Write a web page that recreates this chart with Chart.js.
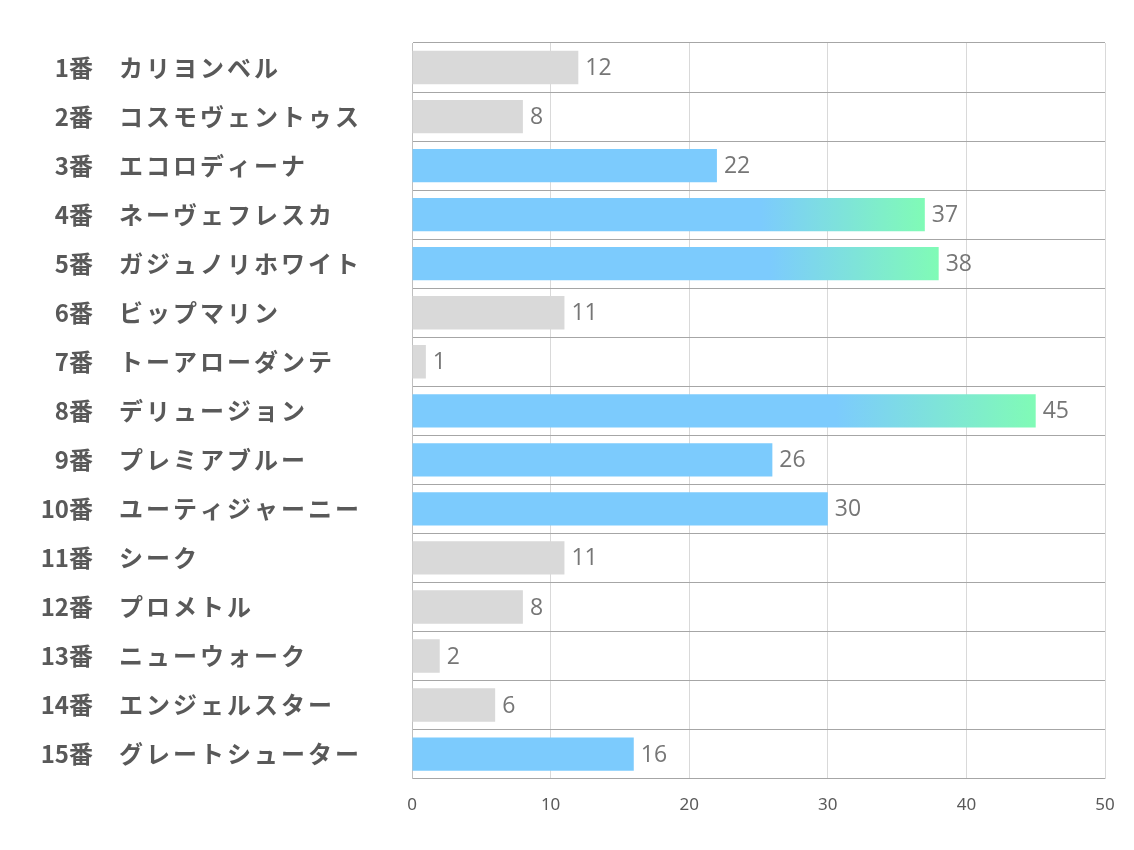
<!DOCTYPE html>
<html>
<head>
<meta charset="utf-8">
<script src="https://cdn.jsdelivr.net/npm/chart.js@4.4.0/dist/chart.umd.min.js"></script>
<style>
  html, body { margin: 0; padding: 0; background: #fff; }
</style>
</head>
<body>
<canvas id="chart" width="1134" height="850"></canvas>
<script>
var horseNos = ["1番", "2番", "3番", "4番", "5番", "6番", "7番", "8番", "9番", "10番", "11番", "12番", "13番", "14番", "15番"];
var horseNames = ["カリヨンベル", "コスモヴェントゥス", "エコロディーナ", "ネーヴェフレスカ", "ガジュノリホワイト", "ビップマリン",
    "トーアローダンテ", "デリュージョン", "プレミアブルー", "ユーティジャーニー", "シーク", "プロメトル", "ニューウォーク",
    "エンジェルスター", "グレートシューター"];
var scores = [12, 8, 22, 37, 38, 11, 1, 45, 26, 30, 11, 8, 2, 6, 16];
// 0 = gray, 1 = blue, 2 = blue->green
var barKind = [0, 0, 1, 2, 2, 0, 0, 2, 1, 1, 0, 0, 0, 0, 1];
var xTicks = [0, 10, 20, 30, 40, 50];

var GRAY = "#d9d9d9", BLUE = "#7ccbfd", GREEN = "#80fbb6";

function barColor(ctx) {
    var kind = barKind[ctx.dataIndex];
    if (kind === 0) return GRAY;
    if (kind === 1) return BLUE;
    var chart = ctx.chart;
    if (!chart.chartArea) return BLUE;
    var xs = chart.scales.x;
    var x0 = xs.getPixelForValue(0);
    var x1 = xs.getPixelForValue(scores[ctx.dataIndex]);
    var g = chart.ctx.createLinearGradient(x0, 0, x1, 0);
    g.addColorStop(0, BLUE);
    g.addColorStop(0.68, BLUE);
    g.addColorStop(1, GREEN);
    return g;
}

// left side labels: number right aligned, name left aligned
var sideLabels = {
    id: 'sideLabels',
    afterDraw: function (chart) {
        var c = chart.ctx, ys = chart.scales.y;
        c.save();
        c.fillStyle = "#595959";
        c.font = "bold 24px 'Noto Sans CJK JP', sans-serif";
        c.textBaseline = "middle";
        for (var i = 0; i < horseNames.length; i++) {
            var y = ys.getPixelForValue(i);
            c.letterSpacing = "0px";
            c.textAlign = "right";
            c.fillText(horseNos[i], 93, y);
            c.letterSpacing = "3px";
            c.textAlign = "left";
            c.fillText(horseNames[i], 119, y);
        }
        c.restore();
    }
};

// value labels after each bar
var valueLabels = {
    id: 'valueLabels',
    afterDatasetsDraw: function (chart) {
        var c = chart.ctx;
        var meta = chart.getDatasetMeta(0);
        c.save();
        c.fillStyle = "#767676";
        c.font = "23px 'Open Sans', sans-serif";
        c.textAlign = "left";
        c.textBaseline = "middle";
        meta.data.forEach(function (bar, i) {
            c.fillText(String(scores[i]), bar.x + 7, bar.y + 1);
        });
        c.restore();
    }
};

var ctx = document.getElementById('chart').getContext('2d');
new Chart(ctx, {
    type: 'bar',
    data: {
        labels: horseNames,
        datasets: [{
            data: scores,
            backgroundColor: barColor,
            borderWidth: 0,
            categoryPercentage: 0.68,
            barPercentage: 1.0
        }]
    },
    options: {
        indexAxis: 'y',
        responsive: false,
        animation: false,
        maintainAspectRatio: false,
        devicePixelRatio: 1,
        layout: { padding: { left: 412, right: 29, top: 43, bottom: 19 } },
        plugins: {
            legend: { display: false },
            tooltip: { enabled: false }
        },
        scales: {
            x: {
                min: 0,
                max: 50,
                afterBuildTicks: function (axis) {
                    axis.ticks = xTicks.map(function (v) { return { value: v }; });
                },
                grid: { color: "#d9d9d9", lineWidth: 1, drawTicks: false },
                border: { display: false },
                ticks: {
                    color: "#595959",
                    padding: 16,
                    font: { family: "Liberation Sans Narrow, Noto Sans, sans-serif", size: 17 }
                }
            },
            y: {
                grid: { color: "#a6a6a6", lineWidth: 1, offset: true, drawTicks: false },
                border: { display: true, color: "#bfbfbf" },
                ticks: { display: false }
            }
        }
    },
    plugins: [sideLabels, valueLabels]
});
</script>
</body>
</html>
